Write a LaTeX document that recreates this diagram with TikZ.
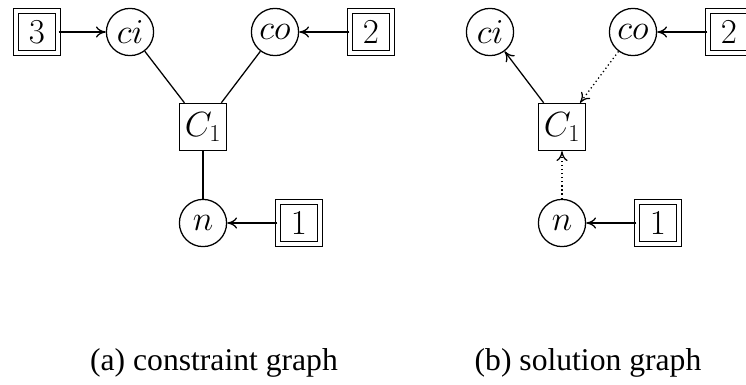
\documentclass[tikz,border=0pt]{standalone}
\usepackage{fontspec}
\usetikzlibrary{arrows.meta}
\newfontfamily\capfont{Liberation Serif}
\begin{document}
\begin{tikzpicture}[
    >={To[length=7pt,width=8pt]},
    var/.style={
        circle,
        draw,
        line width=0.9pt,
        minimum size=1.18cm,
        inner sep=0pt,
        font=\fontsize{24.5}{29}\selectfont,
        },
    cons/.style={
        rectangle,
        draw,
        line width=0.9pt,
        minimum size=1.18cm,
        inner sep=0pt,
        font=\fontsize{24.5}{29}\selectfont,
        },
    val/.style={
        rectangle,
        draw,
        line width=0.9pt,
        double,
        double distance=2.6pt,
        minimum size=1.05cm,
        inner sep=0pt,
        font=\fontsize{24.5}{29}\selectfont,
        },
    mylabel/.style={
        anchor=base,
        font=\capfont\fontsize{22.5}{27}\selectfont
        },
    ArrowC1/.style={
        line width=0.9pt,
        },
    ArrowC2/.style={
        line width=0.9pt,
        dotted,
        },
    ]

    \clip (0,0) rectangle (18.65,-9.6);

    % (a) constraint graph
    \node [var] (ci1) at (3.25,-0.8) {$ci$};
    \node [var] (co1) at (6.875,-0.8) {$co$};
    \node [cons] (c1) at (5.075,-3.175) {$C_1$};
    \node [var] (n1) at (5.075,-5.575) {$n$};
    \node [val] (v3a) at (0.925,-0.8) {$3$};
    \node [val] (v2a) at (9.275,-0.8) {$2$};
    \node [val] (v1a) at (7.475,-5.575) {$1$};

    \draw [ArrowC1] (ci1) -- (c1);
    \draw [ArrowC1] (co1) -- (c1);
    \draw [ArrowC1] (n1) -- (c1);
    \draw [->, ArrowC1] (v3a) -- (ci1);
    \draw [->, ArrowC1] (v2a) -- (co1);
    \draw [->, ArrowC1] (v1a) -- (n1);

    % (b) solution graph
    \node [var] (ci2) at (12.25,-0.8) {$ci$};
    \node [var] (co2) at (15.825,-0.8) {$co$};
    \node [cons] (c2) at (14.05,-3.175) {$C_1$};
    \node [var] (n2) at (14.05,-5.575) {$n$};
    \node [val] (v2b) at (18.225,-0.8) {$2$};
    \node [val] (v1b) at (16.45,-5.575) {$1$};

    \draw [->, ArrowC1] (c2) -- (ci2);
    \draw [->, ArrowC2] (co2) -- (c2);
    \draw [->, ArrowC2] (n2) -- (c2);
    \draw [->, ArrowC1] (v2b) -- (co2);
    \draw [->, ArrowC1] (v1b) -- (n2);

    \node [mylabel] (capa) at (5.35,-9.25) {(a) constraint graph};
    \node [mylabel] (capb) at (14.7,-9.25) {(b) solution graph};

\end{tikzpicture}
\end{document}
